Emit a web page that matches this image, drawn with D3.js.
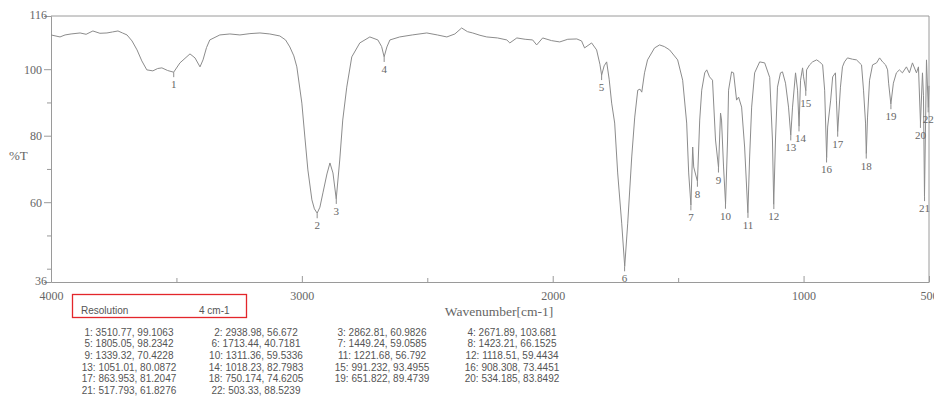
<!DOCTYPE html>
<html>
<head>
<meta charset="utf-8">
<script src="https://cdn.jsdelivr.net/npm/d3@7"></script>
<style>
  body { margin: 0; background: #fff; }
  svg { display: block; }
</style>
</head>
<body>
<svg id="chart" width="934" height="396"></svg>
<script>
// spectrum trace (wavenumber cm-1, %T)
const wavenumber = [4000,3964,3944,3920,3884,3860,3833,3805,3777,3755,3733,3715,3697,3677,3657,3638,3618,3594,3575,3558,3535,3511,3486,3446,3426,3406,3394,3380,3367,3327,3287,3247,3207,3167,3128,3088,3065,3048,3032,3020,3000,2988,2976,2960,2950,2939,2928,2916,2900,2888,2876,2863,2849,2837,2821,2801,2769,2729,2697,2682,2672,2661,2649,2610,2560,2502,2460,2422,2390,2363,2340,2319,2290,2263,2220,2183,2171,2143,2110,2080,2064,2040,2005,1972,1940,1904,1885,1873,1845,1825,1812,1805,1795,1785,1775,1765,1753,1741,1725,1713,1701,1685,1673,1661,1652,1645,1634,1622,1594,1574,1555,1534,1502,1482,1466,1458,1449,1442,1438,1423,1414,1406,1394,1386,1375,1363,1351,1339,1331,1327,1319,1311,1303,1299,1287,1279,1267,1259,1247,1235,1222,1215,1207,1195,1175,1155,1135,1124,1119,1112,1104,1092,1084,1072,1060,1051,1044,1032,1024,1018,1012,1004,1000,991,988,976,964,948,936,924,916,908,904,892,884,873,869,864,853,845,837,825,805,789,769,761,753,750,745,737,725,709,697,685,673,665,661,652,642,630,618,606,590,578,566,550,542,534,526,522,518,510,503,500];
const transmittance = [110.3,109.7,110.3,110.6,110.9,110.5,111.5,110.8,110.9,111.2,111.5,110.9,110.3,108.5,105.8,102.5,99.8,99.5,100.2,100.4,99.6,99.1,101.9,104.6,103.4,100.7,102.8,106.5,108.8,110.3,110.6,110.3,110.7,110.9,110.6,110.0,108.8,106.7,104.0,100.7,89.8,79.6,69.7,60.7,58.0,56.7,58.5,62.8,68.5,71.8,68.8,61.0,72.7,84.7,94.6,103.7,107.9,109.7,108.8,106.8,103.7,106.7,108.8,109.7,110.3,110.9,110.3,109.7,110.6,112.4,111.3,110.9,110.2,109.7,109.4,108.8,107.9,109.4,109.0,108.8,107.3,109.4,108.6,108.2,109.0,109.1,108.5,106.4,107.9,105.8,101.5,98.2,101.0,102.2,97.0,89.8,83.8,68.8,53.7,40.7,53.7,73.6,85.6,93.7,94.0,93.1,98.9,102.8,106.4,107.3,106.8,105.8,102.8,96.7,83.8,68.8,59.1,76.6,70.6,66.2,84.7,93.7,98.9,99.8,97.7,96.7,78.7,70.4,86.8,84.7,70.6,59.5,78.7,93.7,99.2,98.9,90.7,91.6,88.6,76.6,56.8,73.6,88.6,98.9,102.2,101.9,97.5,78.7,59.4,78.7,94.6,98.9,99.2,95.8,88.6,80.1,88.6,98.9,93.7,82.8,96.7,100.4,97.7,93.5,99.8,101.3,102.2,102.8,102.2,101.3,93.7,73.4,82.6,90.7,97.7,98.9,90.7,81.2,94.6,100.7,102.2,103.4,103.0,102.8,101.3,93.7,83.8,74.6,85.6,96.7,101.3,101.9,103.4,102.2,101.3,99.8,95.8,89.5,95.8,98.9,99.8,98.9,100.7,98.9,101.9,98.9,100.7,83.8,98.9,92.0,61.8,102.8,88.5,95.0];

// peak table
const peakNo = [1,2,3,4,5,6,7,8,9,10,11,12,13,14,15,16,17,18,19,20,21,22];
const peakWn = [3510.77,2938.98,2862.81,2671.89,1805.05,1713.44,1449.24,1423.21,1339.32,1311.36,1221.68,1118.51,1051.01,1018.23,991.232,908.308,863.953,750.174,651.822,534.185,517.793,503.33];
const peakT = [99.1063,56.672,60.9826,103.681,98.2342,40.7181,59.0585,66.1525,70.4228,59.5336,56.792,59.4434,80.0872,82.7983,93.4955,73.4451,81.2047,74.6205,89.4739,83.8492,61.8276,88.5239];

// axis ticks
const yLabelTicks = [100, 80, 60];
const yEndTicks = [116, 36];
const yMinorTicks = [90, 70, 50, 40];
const xLabelTicks = [4000, 3000, 2000, 1000, 500];
const xMinorTicks = [3500, 2500, 1500];

const svg = d3.select("#chart");
const mLeft = 51, mRight = 929, mTop = 16, mBottom = 282;
const axisColor = "#9a9a9a", textColor = "#666", lineColor = "#8c8c8c";
const serif = "'Liberation Serif', 'DejaVu Serif', serif";
const sans = "'Liberation Sans', Arial, sans-serif";

const x = d3.scaleLinear().domain([4000, 500]).range([mLeft, mRight]);
const y = d3.scaleLinear().domain([36, 116]).range([mBottom, mTop]);

// frame
svg.append("path")
  .attr("d", `M${mLeft},${mTop}H${mRight}V${mBottom}`)
  .attr("fill", "none").attr("stroke", axisColor).attr("stroke-width", 1);

// y axis
svg.append("g").attr("transform", `translate(${mLeft},0)`)
  .call(d3.axisLeft(y).tickValues(yLabelTicks).tickSize(7).tickPadding(2));
svg.append("g").attr("transform", `translate(${mLeft},0)`)
  .call(d3.axisLeft(y).tickValues(yMinorTicks).tickSize(4).tickFormat(""))
  .select(".domain").remove();
svg.append("g").attr("class", "yend").attr("transform", `translate(${mLeft},0)`)
  .call(d3.axisLeft(y).tickValues(yEndTicks).tickSize(0).tickPadding(4))
  .select(".domain").remove();

// x axis
svg.append("g").attr("transform", `translate(0,${mBottom})`)
  .call(d3.axisBottom(x).tickValues(xLabelTicks).tickFormat(d3.format("d"))
    .tickSizeInner(-6).tickSizeOuter(0).tickPadding(9));
svg.append("g").attr("transform", `translate(0,${mBottom})`)
  .call(d3.axisBottom(x).tickValues(xMinorTicks).tickSizeInner(-4).tickSizeOuter(0).tickFormat(""))
  .select(".domain").remove();

svg.selectAll(".domain, .tick line").attr("stroke", axisColor);
svg.selectAll(".tick text").attr("fill", textColor)
  .style("font-family", serif).style("font-size", "12px");
svg.selectAll(".yend .tick text").attr("dy", "0.2em");

// axis titles
svg.append("text").attr("x", 9).attr("y", 160)
  .attr("fill", textColor).style("font-family", serif).style("font-size", "13px")
  .text("%T");
svg.append("text").attr("x", 499).attr("y", 316).attr("text-anchor", "middle")
  .attr("fill", textColor).style("font-family", serif).style("font-size", "13.5px")
  .text("Wavenumber[cm-1]");

// spectrum
const spectrum = wavenumber.map((w, i) => [w, transmittance[i]]);
svg.append("path")
  .datum(spectrum)
  .attr("fill", "none")
  .attr("stroke", lineColor)
  .attr("stroke-width", 1)
  .attr("stroke-linejoin", "round")
  .attr("d", d3.line().x(d => x(d[0])).y(d => y(d[1])));

// peak markers and numbers
const peaks = peakNo.map((n, i) => ({ n, wn: peakWn[i], t: peakT[i] }));
const pk = svg.append("g");
pk.selectAll("line").data(peaks).enter().append("line")
  .attr("x1", d => x(d.wn)).attr("x2", d => x(d.wn))
  .attr("y1", d => y(d.t)).attr("y2", d => y(d.t) + 5)
  .attr("stroke", lineColor);
pk.selectAll("text").data(peaks).enter().append("text")
  .attr("x", d => x(d.wn) + (d.n === 14 ? 1.5 : 0)).attr("y", d => y(d.t) + 16)
  .attr("text-anchor", "middle").attr("fill", textColor)
  .style("font-family", serif).style("font-size", "11px")
  .text(d => d.n);

// resolution box
svg.append("rect").attr("x", 72.5).attr("y", 294.5).attr("width", 174).attr("height", 23)
  .attr("fill", "none").attr("stroke", "#e3262b").attr("stroke-width", 1.3);
svg.append("text").attr("x", 81).attr("y", 313.5).attr("fill", "#555")
  .style("font-family", sans).style("font-size", "10px").text("Resolution");
svg.append("text").attr("x", 199).attr("y", 313.5).attr("fill", "#555")
  .style("font-family", sans).style("font-size", "10px").text("4 cm-1");

// peak list
const colX = [129, 256, 382, 512];
svg.append("g").selectAll("text").data(peaks).enter().append("text")
  .attr("x", (d, i) => colX[i % 4])
  .attr("y", (d, i) => 335.5 + Math.floor(i / 4) * 11.7)
  .attr("text-anchor", "middle").attr("fill", "#555")
  .style("font-family", sans).style("font-size", "10px")
  .text(d => `${d.n}: ${d.wn}, ${d.t}`);
</script>
</body>
</html>
